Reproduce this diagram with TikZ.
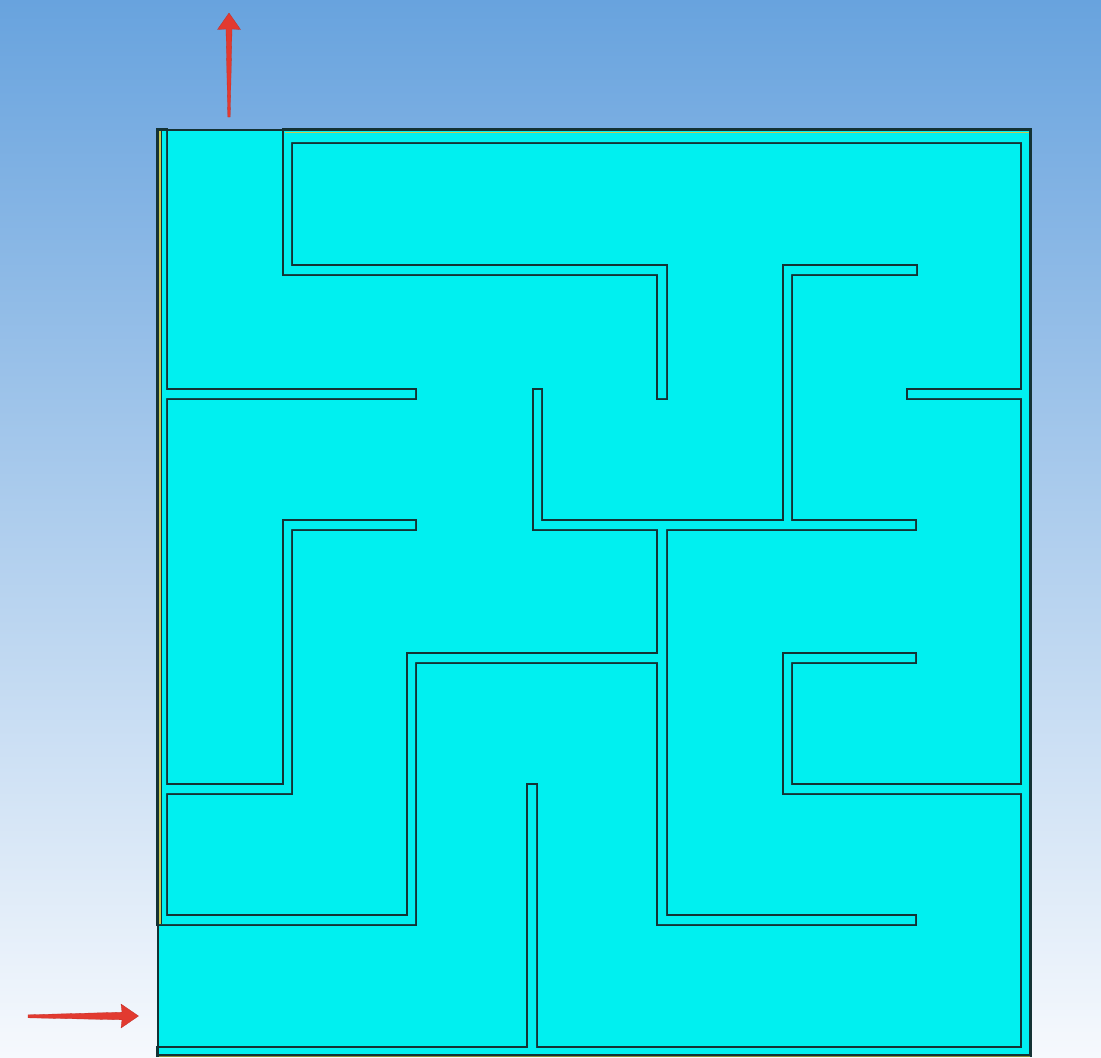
\documentclass[tikz,border=0pt]{standalone}
\definecolor{mazecyan}{RGB}{0,240,240}
\definecolor{wallline}{RGB}{20,50,52}
\definecolor{bgtop}{RGB}{104,163,222}
\definecolor{bgbot}{RGB}{246,249,253}
\definecolor{arrowred}{RGB}{226,58,48}
\definecolor{edgeyellow}{RGB}{200,200,80}
\tikzset{
  wallstroke/.style={draw=wallline, line width=3.2pt, line join=miter},
  wallfill/.style={fill=mazecyan},
  redarrow/.style={fill=arrowred, draw=arrowred!85!black, line width=0.3pt, line join=round},
}
\newcommand{\mazewalls}{%
  % outer walls
  (158,130) rectangle (166,924)
  (284,130) rectangle (1030,142)
  (1022,130) rectangle (1030,1055)
  (158,1048) rectangle (1030,1055)
  % A
  (284,142) rectangle (291,274)
  (284,266) rectangle (666,274)
  (658,266) rectangle (666,398)
  % B
  (158,390) rectangle (415,398)
  % C
  (534,390) rectangle (541,529)
  (534,521) rectangle (915,529)
  % D
  (658,521) rectangle (666,924)
  (658,916) rectangle (915,924)
  % E
  (408,654) rectangle (666,662)
  (408,654) rectangle (415,924)
  (166,916) rectangle (415,924)
  % F
  (784,266) rectangle (791,529)
  (784,266) rectangle (916,274)
  % G
  (908,390) rectangle (1030,398)
  % H
  (284,521) rectangle (415,529)
  (284,521) rectangle (291,793)
  (166,785) rectangle (291,793)
  % I
  (784,654) rectangle (915,662)
  (784,654) rectangle (791,793)
  (784,785) rectangle (1030,793)
  % J
  (528,785) rectangle (536,1055)
}
\begin{document}
\begin{tikzpicture}[x=1pt,y=-1pt]
  % background
  \begin{scope}[y=1pt]
    \shade[top color=bgtop, bottom color=bgbot] (0,-1058) rectangle (1101,0);
  \end{scope}
  \useasboundingbox (0,0) rectangle (1101,1058);
  % maze field
  \fill[mazecyan] (158,130) rectangle (1030,1055);
  \path[wallstroke] \mazewalls;
  \path[wallfill] \mazewalls;
  \draw[wallline, line width=1.4pt] (158,130) rectangle (1030,1055);
  \draw[wallline, line width=2pt] (1030.5,130) -- (1030.5,1055);
  % thin yellow edge details
  \draw[edgeyellow, line width=1.6pt] (159.8,131) -- (159.8,924);
  \draw[wallline, line width=0.8pt] (161.3,131) -- (161.3,924);
  \draw[edgeyellow, line width=1.2pt] (285,132.6) -- (1029,132.6);
  \draw[edgeyellow!70!black, line width=1pt] (159,1056.3) -- (1030,1056.3);
  % red arrows
  \path[redarrow] (28,1014.8) -- (122,1012.2) -- (121,1004) -- (138.5,1016)
     -- (121,1028) -- (122,1019.8) -- (28,1017.8) -- cycle;
  \path[redarrow] (227.8,117) -- (226,29) -- (217.5,29.5) -- (229,13)
     -- (240.5,29.5) -- (232,29) -- (230.2,117) -- cycle;
\end{tikzpicture}
\end{document}
